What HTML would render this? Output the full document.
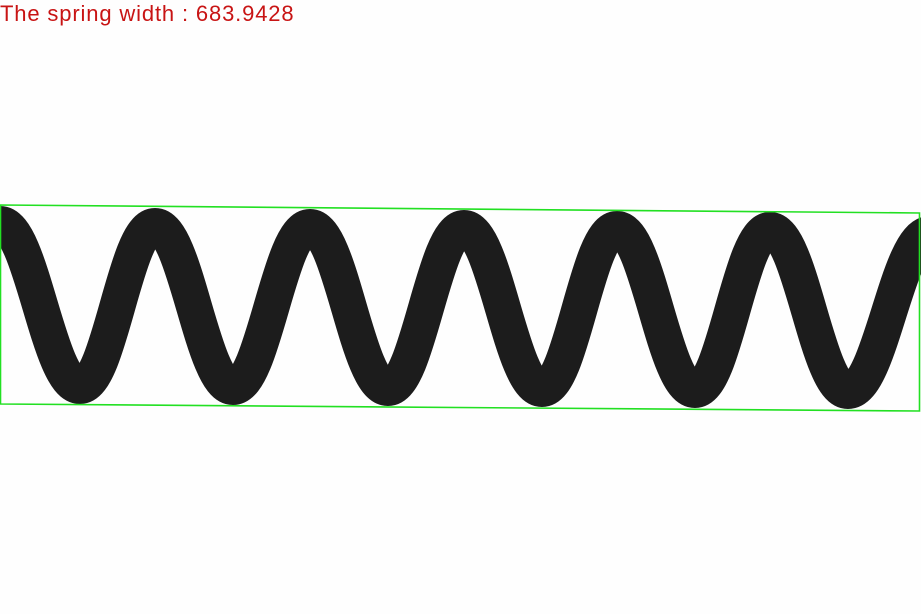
<!DOCTYPE html>
<html><head><meta charset="utf-8"><style>
html,body{margin:0;padding:0;background:#fefefe;width:921px;height:614px;overflow:hidden}
#lbl{position:absolute;left:0;top:1px;font:22px "Liberation Sans",sans-serif;color:#c81414;letter-spacing:0.85px;white-space:nowrap}
</style></head><body>
<div id="lbl">The spring width : 683.9428</div>
<svg id="s" width="921" height="614" style="position:absolute;left:0;top:0">
<g id="spring"></g>
<polygon points="0.5,205 919.5,213 919.5,411 0.5,404" fill="none" stroke="#22e022" stroke-width="1.6"/>
</svg>
<script>
const extremaX = [0, 80, 155, 233, 310, 388, 464, 542, 617, 695, 770, 848, 930];
const extremaY = [224, 386, 226, 387, 227, 388, 228, 389, 229, 390, 230, 391, 234];
let d = 'M' + extremaX[0] + ',' + extremaY[0];
for (let i = 1; i < extremaX.length; i++) {
  const x0 = extremaX[i-1], y0 = extremaY[i-1], x1 = extremaX[i], y1 = extremaY[i];
  const dx = x1 - x0;
  d += ' C' + (x0 + dx*0.4) + ',' + y0 + ' ' + (x1 - dx*0.4) + ',' + y1 + ' ' + x1 + ',' + y1;
}
const p = document.createElementNS('http://www.w3.org/2000/svg','path');


p.setAttribute('d', d);
p.setAttribute('fill', 'none');
p.setAttribute('stroke', '#1c1c1c');
p.setAttribute('stroke-width', '36');
document.getElementById('spring').appendChild(p);
</script>
</body></html>
